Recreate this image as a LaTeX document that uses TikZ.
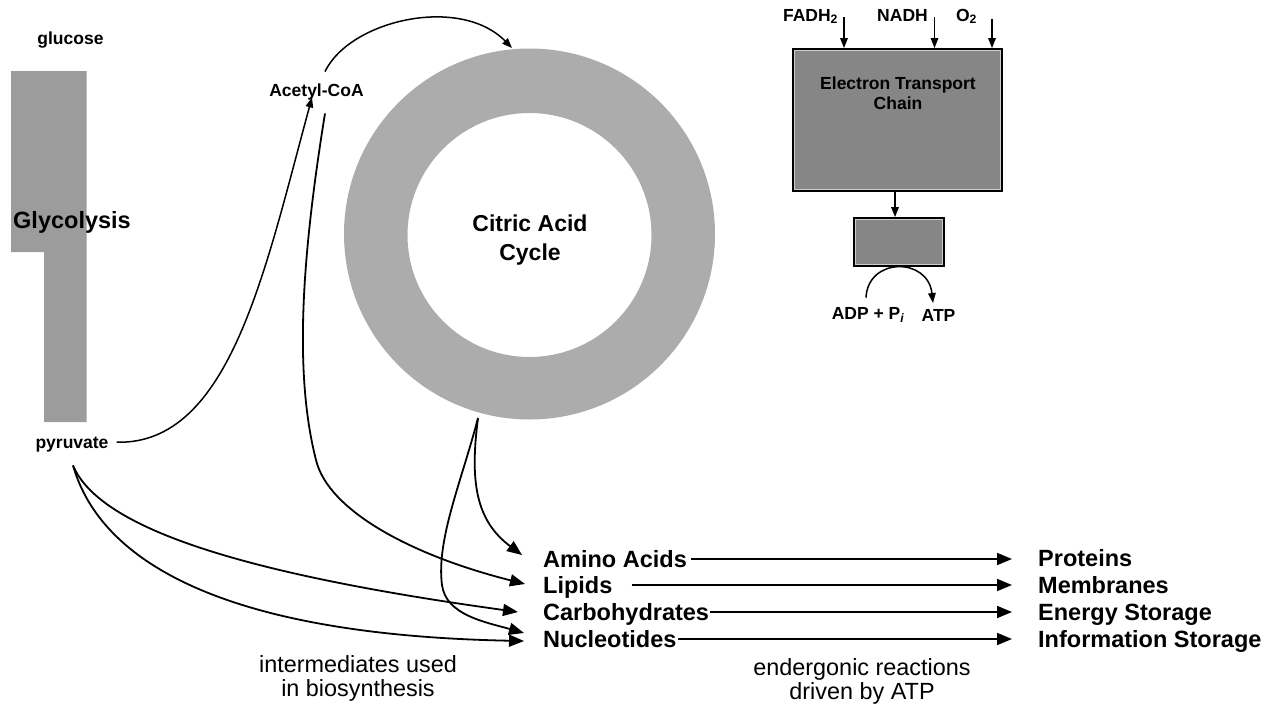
\documentclass[tikz,border=0pt]{standalone}
\usepackage{fontspec}
\setmainfont{Liberation Sans}
\usetikzlibrary{arrows.meta,calc}
\definecolor{glycogray}{RGB}{156,156,156}
\definecolor{ringgray}{RGB}{172,172,172}
\definecolor{etcgray}{RGB}{134,134,134}
\begin{document}
\begin{tikzpicture}[x=1pt,y=-1pt,
  lbl/.style={inner sep=0pt, text height=16.8pt, text depth=0pt, font=\fontsize{23.5}{28}\selectfont\bfseries},
  slbl/.style={inner sep=0pt, text height=12.5pt, text depth=0pt, font=\fontsize{17.5}{20}\selectfont\bfseries},
  note/.style={inner sep=0pt, align=center, font=\fontsize{23.4}{24}\selectfont},
  arr/.style={line width=1.8pt, -{Triangle[length=15pt,width=12pt]}},
  sarr/.style={line width=1.5pt, -{Triangle[length=10pt,width=7.5pt]}},
  graybox/.style={draw=black, line width=1.8pt, fill=etcgray, inner sep=0pt},
  innerline/.style={draw=white!80!black, line width=0.7pt}
]
\useasboundingbox (0,0) rectangle (1274,707);

% Glycolysis bar
\fill[glycogray] (11,71) -- (86.5,71) -- (86.5,422) -- (44,422) -- (44,252) -- (11,252) -- cycle;
% Citric acid cycle ring
\fill[ringgray, even odd rule] (529.5,234) circle[radius=185.5pt] (529.5,235) circle[radius=122pt];

\coordinate (ringtop) at (512,48);
\coordinate (ringbot) at (478,418);

% labels
\node[slbl] (glucose) at (70.5,38) {glucose};
\node[lbl] (glyco) at (72,220) {Glycolysis};
\node[slbl] (pyruvate) at (72,442) {pyruvate};
\node[slbl] (acetyl) at (316.5,90) {Acetyl-CoA};
\node[align=center, inner sep=0pt, font=\fontsize{23}{29}\selectfont\bfseries] (tca) at (530,240.5) {Citric Acid\\Cycle};

% Electron transport chain
\node[graybox, minimum width=209pt, minimum height=142pt] (etc) at (897.5,120) {};
\draw[innerline] ($(etc.south west)+(2.2,-2.2)$) rectangle ($(etc.north east)+(-2.2,2.2)$);
\node[align=center, inner sep=0pt, font=\fontsize{17.5}{20}\selectfont\bfseries] (etclabel) at (898,93) {Electron Transport\\Chain};
\node[graybox, minimum width=90pt, minimum height=48pt] (synth) at (899,242) {};
\draw[innerline] ($(synth.south west)+(2.2,-2.2)$) rectangle ($(synth.north east)+(-2.2,2.2)$);

\node[slbl] (fadh) at (810.5,15) {FADH\textsubscript{2}};
\node[slbl] (nadh) at (902.5,15) {NADH};
\node[slbl] (otwo) at (966.5,15) {O\textsubscript{2}};
\coordinate (fa) at (844,17);
\coordinate (na) at (934.5,17);
\coordinate (oa) at (992,19);
\draw[sarr] (fa) -- (fa |- etc.north);
\draw[sarr] (na) -- (na |- etc.north);
\draw[sarr] (oa) -- (oa |- etc.north);
\draw[sarr] ($(etc.south)+(-2.5,0)$) -- ($(synth.north)+(-4,0)$);

\node[slbl] (adp) at (868,313) {ADP + P\textsubscript{\itshape i}};
\node[slbl] (atp) at (938.5,315.5) {ATP};
\draw[sarr] ($(adp.north)+(-2,-9)$) .. controls (868,257) and (928,257) .. ($(atp.north)+(-5.5,-6)$);

% biosynthesis products
\node[lbl, anchor=west] (amino) at (543,559) {Amino Acids};
\node[lbl, anchor=west] (lipids) at (543,585) {Lipids};
\node[lbl, anchor=west] (carbo) at (543,612) {Carbohydrates};
\node[lbl, anchor=west] (nucl) at (543,639) {Nucleotides};
\node[lbl, anchor=west] (proteins) at (1038,558) {Proteins};
\node[lbl, anchor=west] (membranes) at (1038,585) {Membranes};
\node[lbl, anchor=west] (energy) at (1038,612) {Energy Storage};
\node[lbl, anchor=west] (info) at (1038,639) {Information Storage};

\draw[arr, shorten <=4pt, shorten >=26pt] (amino.east) -- (amino.east -| proteins.west);
\draw[arr, shorten <=19pt, shorten >=26pt] (lipids.east) -- (lipids.east -| membranes.west);
\draw[arr, shorten <=1pt, shorten >=26pt] (carbo.east) -- (carbo.east -| energy.west);
\draw[arr, shorten <=1pt, shorten >=26pt] (nucl.east) -- (nucl.east -| info.west);

% pathway connectors
\draw[sarr, shorten <=8pt] (pyruvate.east) .. controls (230,445) and (265,270) .. ($(acetyl.south)+(-4.5,1)$);
\draw[sarr] ($(acetyl.north)+(8.5,-12)$) .. controls (350,20) and (460,-5) .. (ringtop);
\draw[arr] (ringbot) .. controls (470,480) and (475,520) .. ($(amino.west)+(-21,-4)$);
\draw[arr] (ringbot) .. controls (462,480) and (436,540) .. (442,585) .. controls (446,615) and (485,622) .. ($(nucl.west)+(-19,-6)$);
\draw[arr] ($(acetyl.south)+(8.5,17)$) .. controls (303,250) and (293,370) .. (316,460) .. controls (328,510) and (410,555) .. ($(lipids.west)+(-18,-1)$);
\draw[arr] ($(pyruvate.south)+(1,17)$) .. controls (100,530) and (250,575) .. ($(carbo.west)+(-25,0)$);
\draw[arr] ($(pyruvate.south)+(1,17)$) .. controls (100,560) and (220,635) .. ($(nucl.west)+(-19,2)$);

% notes
\node[note] (interm) at (358,678.5) {intermediates used\\in biosynthesis};
\node[note] (ender) at (862,681) {endergonic reactions\\driven by ATP};
\end{tikzpicture}
\end{document}
